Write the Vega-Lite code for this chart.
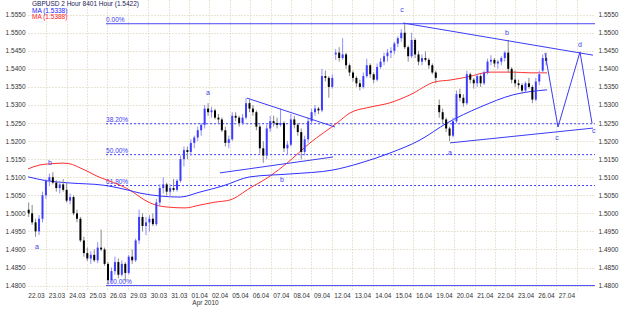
{
"$schema":"https://vega.github.io/schema/vega-lite/v6.json",
"autosize":{"type":"none"},
"padding":{"left":28,"top":0,"right":30,"bottom":23},
"width":567,"height":290,
"background":"white",
"config":{"view":{"stroke":null},"font":"Liberation Sans","axisX":{"labelOverlap":false,"labelFlush":false}},
"datasets":{
"candles":[
{"t":0.25,"o":1.5010,"h":1.5030,"l":1.4990,"c":1.5000},
{"t":0.417,"o":1.5000,"h":1.5023,"l":1.4968,"c":1.4975},
{"t":0.583,"o":1.4975,"h":1.4985,"l":1.4935,"c":1.4950},
{"t":0.75,"o":1.4950,"h":1.4995,"l":1.4940,"c":1.4985},
{"t":0.917,"o":1.4985,"h":1.5060,"l":1.4975,"c":1.5050},
{"t":1.083,"o":1.5050,"h":1.5095,"l":1.5040,"c":1.5090},
{"t":1.25,"o":1.5090,"h":1.5110,"l":1.5075,"c":1.5100},
{"t":1.417,"o":1.5100,"h":1.5114,"l":1.5080,"c":1.5085},
{"t":1.583,"o":1.5085,"h":1.5092,"l":1.5060,"c":1.5070},
{"t":1.75,"o":1.5070,"h":1.5090,"l":1.5055,"c":1.5080},
{"t":1.917,"o":1.5080,"h":1.5095,"l":1.5060,"c":1.5065},
{"t":2.083,"o":1.5065,"h":1.5085,"l":1.5030,"c":1.5035},
{"t":2.25,"o":1.5035,"h":1.5055,"l":1.5025,"c":1.5045},
{"t":2.417,"o":1.5045,"h":1.5050,"l":1.4995,"c":1.5000},
{"t":2.583,"o":1.5000,"h":1.5010,"l":1.4975,"c":1.4985},
{"t":2.75,"o":1.4985,"h":1.4990,"l":1.4920,"c":1.4925},
{"t":2.917,"o":1.4925,"h":1.4935,"l":1.4880,"c":1.4890},
{"t":3.083,"o":1.4890,"h":1.4905,"l":1.4868,"c":1.4875},
{"t":3.25,"o":1.4875,"h":1.4895,"l":1.4860,"c":1.4885},
{"t":3.417,"o":1.4885,"h":1.4900,"l":1.4865,"c":1.4870},
{"t":3.583,"o":1.4870,"h":1.4920,"l":1.4862,"c":1.4905},
{"t":3.75,"o":1.4905,"h":1.4955,"l":1.4895,"c":1.4900},
{"t":3.917,"o":1.4900,"h":1.4905,"l":1.4855,"c":1.4860},
{"t":4.083,"o":1.4860,"h":1.4865,"l":1.4803,"c":1.4815},
{"t":4.25,"o":1.4815,"h":1.4850,"l":1.4808,"c":1.4840},
{"t":4.417,"o":1.4840,"h":1.4880,"l":1.4830,"c":1.4865},
{"t":4.583,"o":1.4865,"h":1.4875,"l":1.4820,"c":1.4830},
{"t":4.75,"o":1.4830,"h":1.4870,"l":1.4825,"c":1.4860},
{"t":4.917,"o":1.4860,"h":1.4865,"l":1.4812,"c":1.4835},
{"t":5.083,"o":1.4835,"h":1.4885,"l":1.4830,"c":1.4880},
{"t":5.25,"o":1.4880,"h":1.4900,"l":1.4860,"c":1.4870},
{"t":5.417,"o":1.4870,"h":1.4930,"l":1.4865,"c":1.4925},
{"t":5.583,"o":1.4925,"h":1.5010,"l":1.4915,"c":1.4990},
{"t":5.75,"o":1.4990,"h":1.5000,"l":1.4950,"c":1.4965},
{"t":5.917,"o":1.4965,"h":1.4990,"l":1.4940,"c":1.4975},
{"t":6.083,"o":1.4975,"h":1.4995,"l":1.4950,"c":1.4985},
{"t":6.25,"o":1.4985,"h":1.5000,"l":1.4965,"c":1.4970},
{"t":6.417,"o":1.4970,"h":1.5040,"l":1.4965,"c":1.5030},
{"t":6.583,"o":1.5030,"h":1.5080,"l":1.5020,"c":1.5070},
{"t":6.75,"o":1.5070,"h":1.5100,"l":1.5055,"c":1.5080},
{"t":6.917,"o":1.5080,"h":1.5085,"l":1.5050,"c":1.5060},
{"t":7.083,"o":1.5060,"h":1.5080,"l":1.5045,"c":1.5070},
{"t":7.25,"o":1.5070,"h":1.5095,"l":1.5060,"c":1.5065},
{"t":7.417,"o":1.5065,"h":1.5095,"l":1.5060,"c":1.5090},
{"t":7.583,"o":1.5090,"h":1.5160,"l":1.5085,"c":1.5150},
{"t":7.75,"o":1.5150,"h":1.5185,"l":1.5130,"c":1.5175},
{"t":7.917,"o":1.5175,"h":1.5185,"l":1.5150,"c":1.5170},
{"t":8.083,"o":1.5170,"h":1.5205,"l":1.5160,"c":1.5195},
{"t":8.25,"o":1.5195,"h":1.5215,"l":1.5180,"c":1.5210},
{"t":8.417,"o":1.5210,"h":1.5240,"l":1.5200,"c":1.5230},
{"t":8.583,"o":1.5230,"h":1.5250,"l":1.5215,"c":1.5245},
{"t":8.75,"o":1.5245,"h":1.5300,"l":1.5235,"c":1.5290},
{"t":8.917,"o":1.5290,"h":1.5305,"l":1.5270,"c":1.5280},
{"t":9.083,"o":1.5280,"h":1.5295,"l":1.5265,"c":1.5285},
{"t":9.25,"o":1.5285,"h":1.5290,"l":1.5260,"c":1.5265},
{"t":9.417,"o":1.5265,"h":1.5275,"l":1.5250,"c":1.5260},
{"t":9.583,"o":1.5260,"h":1.5265,"l":1.5225,"c":1.5230},
{"t":9.75,"o":1.5230,"h":1.5240,"l":1.5185,"c":1.5195},
{"t":9.917,"o":1.5195,"h":1.5215,"l":1.5180,"c":1.5205},
{"t":10.083,"o":1.5205,"h":1.5280,"l":1.5200,"c":1.5270},
{"t":10.25,"o":1.5270,"h":1.5280,"l":1.5255,"c":1.5265},
{"t":10.417,"o":1.5265,"h":1.5270,"l":1.5240,"c":1.5250},
{"t":10.583,"o":1.5250,"h":1.5275,"l":1.5245,"c":1.5265},
{"t":10.75,"o":1.5265,"h":1.5320,"l":1.5260,"c":1.5305},
{"t":10.917,"o":1.5305,"h":1.5315,"l":1.5280,"c":1.5290},
{"t":11.083,"o":1.5290,"h":1.5300,"l":1.5270,"c":1.5280},
{"t":11.25,"o":1.5280,"h":1.5285,"l":1.5230,"c":1.5240},
{"t":11.417,"o":1.5240,"h":1.5245,"l":1.5165,"c":1.5180},
{"t":11.583,"o":1.5180,"h":1.5200,"l":1.5140,"c":1.5160},
{"t":11.75,"o":1.5160,"h":1.5245,"l":1.5150,"c":1.5235},
{"t":11.917,"o":1.5235,"h":1.5270,"l":1.5225,"c":1.5255},
{"t":12.083,"o":1.5255,"h":1.5270,"l":1.5240,"c":1.5250},
{"t":12.25,"o":1.5250,"h":1.5265,"l":1.5235,"c":1.5245},
{"t":12.417,"o":1.5245,"h":1.5290,"l":1.5240,"c":1.5250},
{"t":12.583,"o":1.5250,"h":1.5255,"l":1.5170,"c":1.5180},
{"t":12.75,"o":1.5180,"h":1.5200,"l":1.5162,"c":1.5190},
{"t":12.917,"o":1.5190,"h":1.5275,"l":1.5185,"c":1.5260},
{"t":13.083,"o":1.5260,"h":1.5270,"l":1.5235,"c":1.5245},
{"t":13.25,"o":1.5245,"h":1.5250,"l":1.5215,"c":1.5225},
{"t":13.417,"o":1.5225,"h":1.5235,"l":1.5150,"c":1.5170},
{"t":13.583,"o":1.5170,"h":1.5215,"l":1.5160,"c":1.5205},
{"t":13.75,"o":1.5205,"h":1.5265,"l":1.5195,"c":1.5255},
{"t":13.917,"o":1.5255,"h":1.5290,"l":1.5245,"c":1.5280},
{"t":14.083,"o":1.5280,"h":1.5300,"l":1.5270,"c":1.5290},
{"t":14.25,"o":1.5290,"h":1.5295,"l":1.5275,"c":1.5285},
{"t":14.417,"o":1.5285,"h":1.5400,"l":1.5280,"c":1.5380},
{"t":14.583,"o":1.5380,"h":1.5395,"l":1.5365,"c":1.5375},
{"t":14.75,"o":1.5375,"h":1.5380,"l":1.5320,"c":1.5350},
{"t":14.917,"o":1.5350,"h":1.5385,"l":1.5345,"c":1.5375},
{"t":15.083,"o":1.5440,"h":1.5455,"l":1.5425,"c":1.5445},
{"t":15.25,"o":1.5445,"h":1.5460,"l":1.5420,"c":1.5430},
{"t":15.417,"o":1.5430,"h":1.5485,"l":1.5425,"c":1.5440},
{"t":15.583,"o":1.5440,"h":1.5445,"l":1.5400,"c":1.5410},
{"t":15.75,"o":1.5410,"h":1.5415,"l":1.5380,"c":1.5390},
{"t":15.917,"o":1.5390,"h":1.5395,"l":1.5365,"c":1.5375},
{"t":16.083,"o":1.5375,"h":1.5380,"l":1.5350,"c":1.5360},
{"t":16.25,"o":1.5360,"h":1.5370,"l":1.5340,"c":1.5350},
{"t":16.417,"o":1.5350,"h":1.5390,"l":1.5345,"c":1.5380},
{"t":16.583,"o":1.5380,"h":1.5428,"l":1.5375,"c":1.5410},
{"t":16.75,"o":1.5410,"h":1.5415,"l":1.5375,"c":1.5385},
{"t":16.917,"o":1.5385,"h":1.5390,"l":1.5360,"c":1.5370},
{"t":17.083,"o":1.5370,"h":1.5415,"l":1.5365,"c":1.5405},
{"t":17.25,"o":1.5405,"h":1.5430,"l":1.5400,"c":1.5420},
{"t":17.417,"o":1.5420,"h":1.5445,"l":1.5410,"c":1.5435},
{"t":17.583,"o":1.5435,"h":1.5455,"l":1.5420,"c":1.5445},
{"t":17.75,"o":1.5445,"h":1.5460,"l":1.5430,"c":1.5450},
{"t":17.917,"o":1.5450,"h":1.5475,"l":1.5440,"c":1.5470},
{"t":18.083,"o":1.5470,"h":1.5490,"l":1.5460,"c":1.5485},
{"t":18.25,"o":1.5485,"h":1.5510,"l":1.5475,"c":1.5500},
{"t":18.417,"o":1.5500,"h":1.5525,"l":1.5455,"c":1.5460},
{"t":18.583,"o":1.5460,"h":1.5465,"l":1.5420,"c":1.5435},
{"t":18.75,"o":1.5435,"h":1.5500,"l":1.5430,"c":1.5480},
{"t":18.917,"o":1.5480,"h":1.5485,"l":1.5430,"c":1.5440},
{"t":19.083,"o":1.5440,"h":1.5450,"l":1.5410,"c":1.5420},
{"t":19.25,"o":1.5420,"h":1.5440,"l":1.5410,"c":1.5430},
{"t":19.417,"o":1.5430,"h":1.5448,"l":1.5420,"c":1.5425},
{"t":19.583,"o":1.5425,"h":1.5430,"l":1.5400,"c":1.5410},
{"t":19.75,"o":1.5410,"h":1.5415,"l":1.5385,"c":1.5390},
{"t":19.917,"o":1.5390,"h":1.5395,"l":1.5360,"c":1.5375},
{"t":20.083,"o":1.5300,"h":1.5315,"l":1.5265,"c":1.5280},
{"t":20.25,"o":1.5280,"h":1.5290,"l":1.5250,"c":1.5260},
{"t":20.417,"o":1.5260,"h":1.5265,"l":1.5225,"c":1.5235},
{"t":20.583,"o":1.5235,"h":1.5240,"l":1.5200,"c":1.5215},
{"t":20.75,"o":1.5215,"h":1.5265,"l":1.5210,"c":1.5255},
{"t":20.917,"o":1.5255,"h":1.5340,"l":1.5250,"c":1.5330},
{"t":21.083,"o":1.5330,"h":1.5345,"l":1.5310,"c":1.5320},
{"t":21.25,"o":1.5320,"h":1.5330,"l":1.5295,"c":1.5305},
{"t":21.417,"o":1.5305,"h":1.5395,"l":1.5300,"c":1.5385},
{"t":21.583,"o":1.5385,"h":1.5390,"l":1.5360,"c":1.5370},
{"t":21.75,"o":1.5370,"h":1.5375,"l":1.5345,"c":1.5360},
{"t":21.917,"o":1.5360,"h":1.5385,"l":1.5350,"c":1.5380},
{"t":22.083,"o":1.5380,"h":1.5385,"l":1.5350,"c":1.5360},
{"t":22.25,"o":1.5360,"h":1.5395,"l":1.5355,"c":1.5390},
{"t":22.417,"o":1.5390,"h":1.5428,"l":1.5385,"c":1.5420},
{"t":22.583,"o":1.5420,"h":1.5438,"l":1.5410,"c":1.5425},
{"t":22.75,"o":1.5425,"h":1.5430,"l":1.5405,"c":1.5415},
{"t":22.917,"o":1.5415,"h":1.5425,"l":1.5400,"c":1.5420},
{"t":23.083,"o":1.5420,"h":1.5435,"l":1.5410,"c":1.5430},
{"t":23.25,"o":1.5430,"h":1.5450,"l":1.5420,"c":1.5445},
{"t":23.417,"o":1.5445,"h":1.5480,"l":1.5390,"c":1.5400},
{"t":23.583,"o":1.5400,"h":1.5405,"l":1.5360,"c":1.5370},
{"t":23.75,"o":1.5370,"h":1.5395,"l":1.5350,"c":1.5360},
{"t":23.917,"o":1.5360,"h":1.5370,"l":1.5345,"c":1.5355},
{"t":24.083,"o":1.5355,"h":1.5360,"l":1.5330,"c":1.5340},
{"t":24.25,"o":1.5340,"h":1.5365,"l":1.5335,"c":1.5360},
{"t":24.417,"o":1.5360,"h":1.5375,"l":1.5345,"c":1.5350},
{"t":24.583,"o":1.5350,"h":1.5355,"l":1.5305,"c":1.5315},
{"t":24.75,"o":1.5315,"h":1.5375,"l":1.5310,"c":1.5365},
{"t":24.917,"o":1.5365,"h":1.5395,"l":1.5355,"c":1.5385},
{"t":25.083,"o":1.5395,"h":1.5440,"l":1.5390,"c":1.5430},
{"t":25.25,"o":1.5430,"h":1.5445,"l":1.5410,"c":1.5422}
],
"ma":[
{"s":"red","t":0.217,"v":1.5123},{"s":"red","t":0.797,"v":1.5134},{"s":"red","t":1.28,"v":1.5137},{"s":"red","t":1.86,"v":1.5139},{"s":"red","t":2.246,"v":1.5137},{"s":"red","t":2.729,"v":1.5126},{"s":"red","t":3.068,"v":1.5117},{"s":"red","t":3.551,"v":1.5103},{"s":"red","t":4.034,"v":1.5092},{"s":"red","t":4.662,"v":1.5078},{"s":"red","t":5.29,"v":1.5059},{"s":"red","t":5.628,"v":1.5045},{"s":"red","t":6.111,"v":1.5029},{"s":"red","t":6.836,"v":1.5018},{"s":"red","t":7.802,"v":1.5015},{"s":"red","t":8.527,"v":1.5023},{"s":"red","t":9.251,"v":1.5031},{"s":"red","t":9.976,"v":1.5037},{"s":"red","t":10.942,"v":1.507},{"s":"red","t":11.908,"v":1.5103},{"s":"red","t":12.729,"v":1.5139},{"s":"red","t":13.841,"v":1.5195},{"s":"red","t":15.145,"v":1.525},{"s":"red","t":15.773,"v":1.5278},{"s":"red","t":16.739,"v":1.5294},{"s":"red","t":17.705,"v":1.5306},{"s":"red","t":18.671,"v":1.5328},{"s":"red","t":19.879,"v":1.5364},{"s":"red","t":20.604,"v":1.5369},{"s":"red","t":21.473,"v":1.5378},{"s":"red","t":22.536,"v":1.5391},{"s":"red","t":23.647,"v":1.5391},{"s":"red","t":24.469,"v":1.5389},{"s":"red","t":25.29,"v":1.5389},
{"s":"blue","t":0.217,"v":1.5101},{"s":"blue","t":1.135,"v":1.509},{"s":"blue","t":2.246,"v":1.5084},{"s":"blue","t":3.841,"v":1.5078},{"s":"blue","t":5.0,"v":1.5065},{"s":"blue","t":5.628,"v":1.5056},{"s":"blue","t":6.594,"v":1.5048},{"s":"blue","t":7.56,"v":1.5045},{"s":"blue","t":8.527,"v":1.5059},{"s":"blue","t":9.638,"v":1.5076},{"s":"blue","t":10.942,"v":1.5101},{"s":"blue","t":12.874,"v":1.5109},{"s":"blue","t":14.952,"v":1.512},{"s":"blue","t":16.256,"v":1.5139},{"s":"blue","t":17.705,"v":1.5167},{"s":"blue","t":19.155,"v":1.5203},{"s":"blue","t":20.459,"v":1.525},{"s":"blue","t":22.053,"v":1.5294},{"s":"blue","t":23.647,"v":1.5328},{"s":"blue","t":25.29,"v":1.5342}
],
"pattern":[
{"g":"p1","o":1,"t":10.797,"v":1.5319},{"g":"p1","o":2,"t":15.048,"v":1.5239},
{"g":"p2","o":1,"t":9.493,"v":1.5112},{"g":"p2","o":2,"t":14.952,"v":1.5156},
{"g":"p3","o":1,"t":18.333,"v":1.5527},{"g":"p3","o":2,"t":27.512,"v":1.5438},
{"g":"p4","o":1,"t":20.604,"v":1.5195},{"g":"p4","o":2,"t":27.512,"v":1.5236},
{"g":"p5","o":1,"t":25.193,"v":1.5444},{"g":"p5","o":2,"t":25.821,"v":1.5239},{"g":"p5","o":3,"t":26.884,"v":1.5447},{"g":"p5","o":4,"t":27.464,"v":1.525}
],
"fib":[
{"lv":"0.00%","p":1.5525,"k":"solid","t1":3.99,"t2":27.609},
{"lv":"38.20%","p":1.5248,"k":"dot","t1":3.99,"t2":27.609},
{"lv":"50.00%","p":1.51625,"k":"dot","t1":3.99,"t2":27.609},
{"lv":"61.80%","p":1.5077,"k":"dot","t1":3.99,"t2":27.609},
{"lv":"100.00%","p":1.48,"k":"solid","t1":3.99,"t2":27.609}
],
"waves":[
{"t":0.652,"p":1.4907,"s":"a"},{"t":1.28,"p":1.5139,"s":"b"},{"t":8.913,"p":1.5333,"s":"a"},{"t":12.488,"p":1.5092,"s":"b"},{"t":18.285,"p":1.5563,"s":"c"},{"t":20.604,"p":1.5167,"s":"a"},{"t":23.357,"p":1.5499,"s":"b"},{"t":25.773,"p":1.5209,"s":"c"},{"t":26.884,"p":1.5466,"s":"d"},{"t":27.55,"p":1.5228,"s":"c"}
],
"legend":[
{"t":0.41,"p":1.558,"s":"GBPUSD 2 Hour 8401 Hour (1.5422)","k":"title"},
{"t":0.41,"p":1.5561,"s":"MA (1.5338)","k":"blue"},
{"t":0.41,"p":1.5544,"s":"MA (1.5388)","k":"red"}
]
},
"layer":[
{"data":{"name":"fib"},
 "mark":{"type":"rule","strokeWidth":1},
 "encoding":{
  "x":{"field":"t1","type":"quantitative","scale":{"domain":[0.217,27.609],"nice":false,"zero":false},
   "axis":{"values":[1.0966,2.0821,3.0676,4.0531,5.0386,6.0242,7.0097,7.9952,8.9807,9.9662,10.9517,11.9372,12.9227,13.9082,14.8937,15.8792,16.8647,17.8502,18.8357,19.8213,20.8068,21.7923,22.7778,23.7633,24.7488,25.7343,26.7198],"tickCount":60,
    "labelExpr":"['','22.03','23.03','24.03','25.03','26.03','29.03','30.03','31.03','01.04','02.04','05.04','06.04','07.04','08.04','09.04','12.04','13.04','14.04','15.04','16.04','19.04','20.04','21.04','22.04','23.04','26.04','27.04'][round((datum.value - 0.1111) / 0.985507)]",
    "labelOffset":-10.2,"labelFlush":false,"labelOverlap":false,"labelFontSize":6.5,"labelColor":"#333333","labelPadding":2,
    "grid":true,"gridColor":"#d6cba8","gridDash":[1,2],
    "ticks":false,"domain":false,
    "title":"Apr 2010","titleFontSize":6.5,"titleFontWeight":"normal","titleColor":"#333333","titleX":177,"titleY":12,"titleBaseline":"middle"}},
  "x2":{"field":"t2"},
  "y":{"field":"p","type":"quantitative","scale":{"domain":[1.47877,1.55907],"nice":false,"zero":false},
   "axis":{"orient":"left","values":[1.48,1.485,1.49,1.495,1.5,1.505,1.51,1.515,1.52,1.525,1.53,1.535,1.54,1.545,1.55,1.555],
    "format":".4f","labelFontSize":6.5,"labelColor":"#333333","labelPadding":3,"ticks":false,"domain":false,
    "grid":true,"gridColor":"#d6cba8","gridDash":[1,2],"title":null}},
  "strokeDash":{"field":"k","type":"nominal","scale":{"domain":["solid","dot"],"range":[[1,0],[2,2]]},"legend":null},
  "color":{"value":"#3c3cf5"}
 }},
{"data":{"name":"fib"},
 "mark":{"type":"text","align":"left","baseline":"bottom","dy":-1,"fontSize":6.5,"color":"#3c3cf5"},
 "encoding":{"x":{"field":"t1","type":"quantitative"},"y":{"field":"p","type":"quantitative","axis":null},"text":{"field":"lv"}}},
{"data":{"name":"ma"},
 "mark":{"type":"line","strokeWidth":1,"interpolate":"monotone"},
 "encoding":{"x":{"field":"t","type":"quantitative"},"y":{"field":"v","type":"quantitative","axis":null},
  "color":{"field":"s","type":"nominal","scale":{"domain":["red","blue"],"range":["#ff3030","#3030ff"]},"legend":null}}},
{"data":{"name":"candles"},
 "mark":{"type":"rule","strokeWidth":1},
 "encoding":{
  "x":{"field":"t","type":"quantitative"},
  "y":{"field":"l","type":"quantitative","axis":null},"y2":{"field":"h"},
  "color":{"condition":{"test":"datum.c >= datum.o","value":"#8f8fff"},"value":"#8a8a8a"}}},
{"data":{"name":"candles"},
 "mark":{"type":"rule","strokeWidth":2,"strokeCap":"butt"},
 "encoding":{"x":{"field":"t","type":"quantitative"},
  "y":{"field":"o","type":"quantitative",
   "axis":{"orient":"right","values":[1.48,1.485,1.49,1.495,1.5,1.505,1.51,1.515,1.52,1.525,1.53,1.535,1.54,1.545,1.55,1.555],
    "format":".4f","labelFontSize":6.5,"labelColor":"#333333","labelPadding":3,"ticks":false,"domain":false,"grid":false,"title":null}},
  "y2":{"field":"c"},
  "color":{"condition":{"test":"datum.c >= datum.o","value":"#3c3cff"},"value":"#000000"}}},
{"data":{"name":"pattern"},
 "mark":{"type":"line","strokeWidth":1,"color":"#3c3cf5"},
 "encoding":{"x":{"field":"t","type":"quantitative"},"y":{"field":"v","type":"quantitative","axis":null},"detail":{"field":"g"},"order":{"field":"o"}}},
{"data":{"name":"waves"},
 "mark":{"type":"text","fontSize":7,"color":"#3c3cf5","baseline":"middle"},
 "encoding":{"x":{"field":"t","type":"quantitative"},"y":{"field":"p","type":"quantitative","axis":null},"text":{"field":"s"}}},
{"data":{"name":"legend"},
 "mark":{"type":"text","fontSize":6.5,"align":"left","baseline":"middle"},
 "encoding":{"x":{"field":"t","type":"quantitative"},"y":{"field":"p","type":"quantitative","axis":null},"text":{"field":"s"},
  "color":{"field":"k","type":"nominal","scale":{"domain":["title","blue","red"],"range":["#1a1a5a","#2020ff","#ff2020"]},"legend":null}}}
],
"resolve":{"axis":{"y":"independent"},"scale":{"color":"independent"}}
}
